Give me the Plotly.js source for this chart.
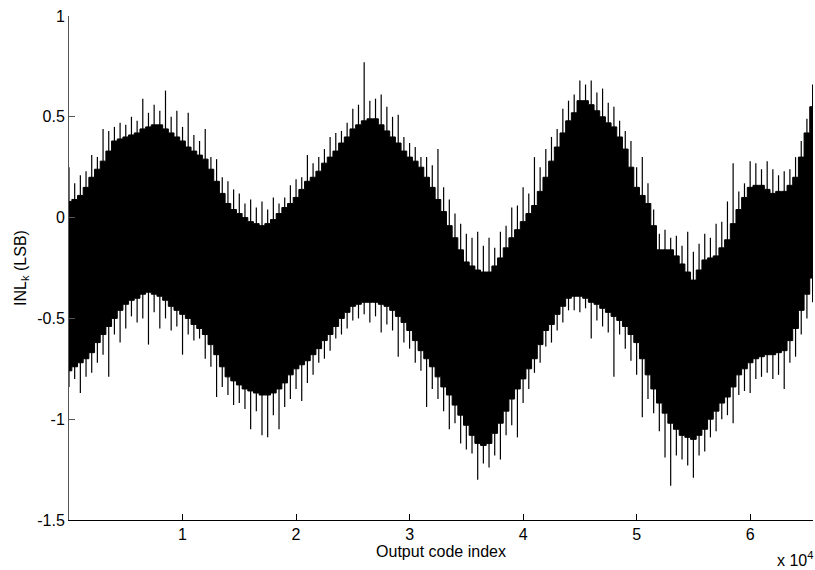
<!DOCTYPE html>
<html>
<head>
<meta charset="utf-8">
<script src="https://cdn.plot.ly/plotly-3.0.1.min.js"></script>
<style>
  html, body { margin: 0; padding: 0; background: #fff; }
  #chart { width: 815px; height: 570px; }
</style>
</head>
<body>
<div id="chart"></div>
<script>
// Output code bins (step of 500 codes, starting at 0)
const binStep = 500;

// Upper edge of the dense core (LSB), one value per bin
const upCore = [
  0.08, 0.09, 0.11, 0.15, 0.20, 0.24, 0.28, 0.33, 0.38, 0.39,
  0.40, 0.41, 0.42, 0.44, 0.45, 0.46, 0.46, 0.44, 0.42, 0.40,
  0.38, 0.35, 0.33, 0.31, 0.29, 0.24, 0.18, 0.12, 0.07, 0.04,
  0.02, 0.00, -0.02, -0.03, -0.04, -0.03, -0.01, 0.02, 0.05, 0.07,
  0.10, 0.14, 0.18, 0.20, 0.23, 0.27, 0.30, 0.33, 0.37, 0.40,
  0.44, 0.46, 0.48, 0.49, 0.49, 0.46, 0.43, 0.40, 0.37, 0.33,
  0.30, 0.28, 0.25, 0.20, 0.15, 0.09, 0.03, -0.04, -0.10, -0.16,
  -0.22, -0.24, -0.26, -0.27, -0.27, -0.24, -0.20, -0.15, -0.10, -0.06,
  -0.02, 0.02, 0.06, 0.13, 0.20, 0.28, 0.35, 0.42, 0.48, 0.52,
  0.58, 0.58, 0.56, 0.53, 0.50, 0.47, 0.45, 0.40, 0.34, 0.25,
  0.15, 0.11, 0.07, -0.04, -0.16, -0.16, -0.16, -0.19, -0.23, -0.27,
  -0.31, -0.26, -0.21, -0.20, -0.19, -0.15, -0.11, -0.03, 0.04, 0.10,
  0.15, 0.16, 0.16, 0.14, 0.12, 0.13, 0.13, 0.16, 0.20, 0.30,
  0.42, 0.55
];

// Lower edge of the dense core (LSB)
const loCore = [
  -0.76, -0.74, -0.72, -0.70, -0.67, -0.62, -0.58, -0.54, -0.50, -0.46,
  -0.43, -0.41, -0.40, -0.38, -0.37, -0.38, -0.39, -0.41, -0.44, -0.46,
  -0.48, -0.50, -0.53, -0.55, -0.58, -0.63, -0.68, -0.74, -0.79, -0.81,
  -0.83, -0.85, -0.86, -0.87, -0.88, -0.88, -0.87, -0.85, -0.82, -0.78,
  -0.75, -0.73, -0.71, -0.68, -0.65, -0.61, -0.58, -0.54, -0.50, -0.47,
  -0.44, -0.43, -0.42, -0.42, -0.42, -0.43, -0.44, -0.46, -0.49, -0.52,
  -0.56, -0.61, -0.66, -0.70, -0.74, -0.79, -0.84, -0.88, -0.93, -0.98,
  -1.03, -1.08, -1.12, -1.13, -1.12, -1.07, -1.02, -0.96, -0.90, -0.85,
  -0.80, -0.75, -0.70, -0.63, -0.56, -0.53, -0.48, -0.44, -0.40, -0.39,
  -0.39, -0.40, -0.42, -0.43, -0.45, -0.47, -0.49, -0.51, -0.54, -0.58,
  -0.62, -0.70, -0.78, -0.85, -0.92, -0.97, -1.02, -1.05, -1.08, -1.09,
  -1.10, -1.08, -1.05, -1.00, -0.96, -0.92, -0.89, -0.84, -0.78, -0.75,
  -0.72, -0.70, -0.69, -0.68, -0.68, -0.67, -0.66, -0.61, -0.55, -0.46,
  -0.38, -0.30
];

// Highest INL value reached in each bin (spike tips)
const hiTip = [
  0.25, 0.17, 0.21, 0.23, 0.31, 0.30, 0.44, 0.43, 0.45, 0.47,
  0.46, 0.50, 0.48, 0.59, 0.52, 0.56, 0.53, 0.63, 0.50, 0.53,
  0.45, 0.52, 0.41, 0.38, 0.44, 0.30, 0.29, 0.20, 0.18, 0.14,
  0.12, 0.07, 0.09, 0.05, 0.08, 0.04, 0.10, 0.07, 0.10, 0.16,
  0.19, 0.20, 0.31, 0.27, 0.30, 0.34, 0.40, 0.42, 0.43, 0.47,
  0.54, 0.56, 0.77, 0.58, 0.59, 0.61, 0.55, 0.50, 0.51, 0.40,
  0.37, 0.35, 0.30, 0.30, 0.26, 0.34, 0.15, 0.09, 0.02, -0.03,
  -0.08, -0.10, -0.07, -0.14, -0.10, -0.15, -0.07, -0.04, 0.05, 0.06,
  0.15, 0.12, 0.30, 0.25, 0.34, 0.40, 0.44, 0.54, 0.58, 0.61,
  0.68, 0.66, 0.68, 0.62, 0.64, 0.57, 0.55, 0.48, 0.43, 0.38,
  0.25, 0.30, 0.17, 0.04, -0.08, -0.06, -0.10, -0.09, -0.14, -0.07,
  -0.17, -0.13, -0.08, -0.10, -0.03, -0.02, 0.08, 0.27, 0.13, 0.17,
  0.28, 0.27, 0.24, 0.28, 0.24, 0.21, 0.23, 0.24, 0.30, 0.38,
  0.49, 0.66
];

// Lowest INL value reached in each bin (spike tips)
const loTip = [
  -0.84, -0.80, -0.87, -0.79, -0.77, -0.72, -0.68, -0.79, -0.58, -0.62,
  -0.55, -0.49, -0.52, -0.50, -0.63, -0.47, -0.55, -0.50, -0.56, -0.54,
  -0.68, -0.58, -0.61, -0.60, -0.70, -0.74, -0.89, -0.84, -0.88, -0.93,
  -0.92, -0.95, -1.05, -0.96, -1.08, -1.09, -0.98, -1.05, -0.94, -0.90,
  -0.85, -0.91, -0.82, -0.78, -0.72, -0.70, -0.66, -0.60, -0.58, -0.55,
  -0.51, -0.50, -0.48, -0.52, -0.49, -0.57, -0.53, -0.56, -0.69, -0.62,
  -0.65, -0.72, -0.76, -0.94, -0.85, -0.90, -0.96, -1.05, -1.02, -1.12,
  -1.15, -1.17, -1.30, -1.22, -1.24, -1.18, -1.20, -1.08, -1.03, -1.09,
  -0.92, -0.85, -0.77, -0.72, -0.64, -0.62, -0.56, -0.52, -0.46, -0.46,
  -0.47, -0.45, -0.60, -0.51, -0.54, -0.57, -0.79, -0.58, -0.65, -0.71,
  -0.78, -0.99, -0.90, -0.97, -1.06, -1.19, -1.33, -1.18, -1.20, -1.23,
  -1.29, -1.18, -1.16, -1.09, -1.06, -1.00, -0.98, -1.02, -0.88, -0.86,
  -0.87, -0.80, -0.79, -0.77, -0.80, -0.78, -0.85, -0.72, -0.69, -0.58,
  -0.50, -0.42
];

// Axis tick labels
const xTickVals = [10000, 20000, 30000, 40000, 50000, 60000];
const xTickText = ["1", "2", "3", "4", "5", "6"];
const yTickVals = [-1.5, -1, -0.5, 0, 0.5, 1];
const yTickText = ["-1.5", "-1", "-0.5", "0", "0.5", "1"];

const codes = upCore.map((_, i) => i * binStep);

// spike segments: vertical line per bin from lowest to highest value
const sx = [], sy = [];
codes.forEach((c, i) => {
  sx.push(c, c, null);
  sy.push(loTip[i], hiTip[i], null);
});

const traces = [
  { x: codes, y: loCore, mode: 'lines', line: { color: '#000', width: 1, shape: 'hvh' },
    hoverinfo: 'skip', showlegend: false },
  { x: codes, y: upCore, mode: 'lines', fill: 'tonexty', fillcolor: '#000',
    line: { color: '#000', width: 1, shape: 'hvh' }, hoverinfo: 'skip', showlegend: false },
  { x: sx, y: sy, mode: 'lines', line: { color: '#000', width: 1.2 },
    connectgaps: false, hoverinfo: 'skip', showlegend: false }
];

const font = { family: '"Liberation Sans", Arial, Helvetica, sans-serif', size: 16, color: '#000' };

const layout = {
  width: 815, height: 570,
  margin: { l: 69, r: 2, t: 16, b: 50 },
  paper_bgcolor: '#fff', plot_bgcolor: '#fff',
  font: font,
  showlegend: false,
  xaxis: {
    range: [0, 65536], showgrid: false, zeroline: false,
    showline: true, linecolor: '#000', linewidth: 1, mirror: false,
    ticks: 'inside', ticklen: 6, tickcolor: '#000', tickwidth: 1,
    tickvals: xTickVals, ticktext: xTickText, tickfont: font,
    title: { text: 'Output code index', font: font, standoff: 2 }
  },
  yaxis: {
    range: [-1.5, 1], showgrid: false, zeroline: false,
    showline: true, linecolor: '#555', linewidth: 1, mirror: false,
    ticks: 'inside', ticklen: 6, tickcolor: '#555', tickwidth: 1,
    tickvals: yTickVals, ticktext: yTickText, tickfont: font,
    title: { text: 'INL<sub>k</sub> (LSB)', font: font, standoff: 6 }
  },
  annotations: [{
    xref: 'paper', yref: 'paper', x: 1, y: 0, xanchor: 'right', yanchor: 'top',
    yshift: -28, xshift: 1, borderpad: 0, showarrow: false,
    text: 'x 10<sup>4</sup>', font: font
  }]
};

Plotly.newPlot('chart', traces, layout, { staticPlot: true, displayModeBar: false });
</script>
</body>
</html>
